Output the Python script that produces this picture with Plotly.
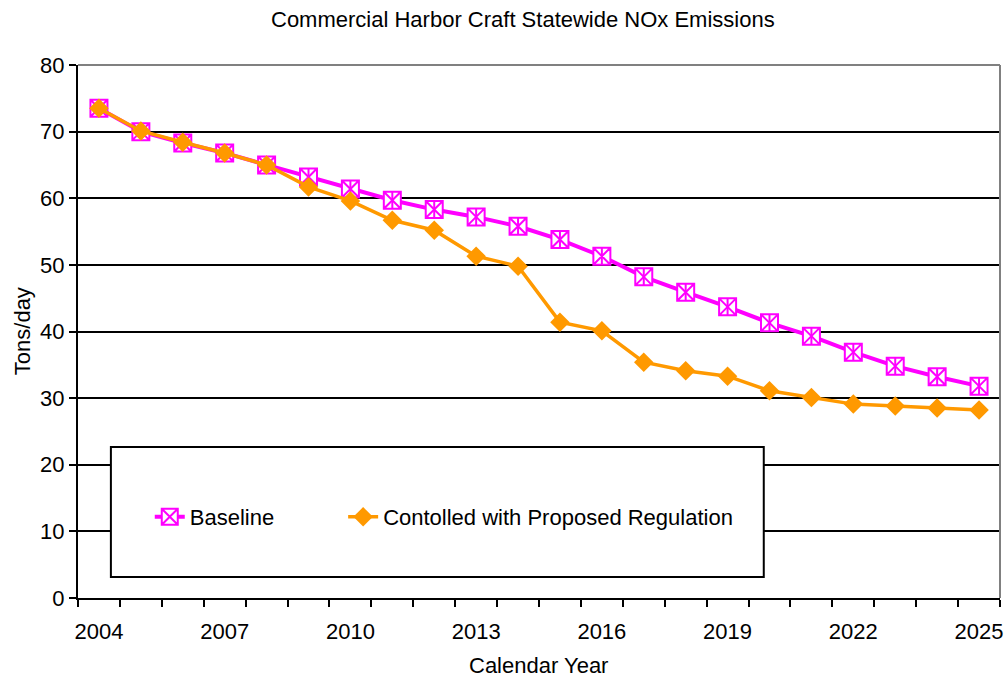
import plotly.graph_objects as go

# Statewide NOx emissions from commercial harbor craft (tons/day)
years = list(range(2004, 2026))
baseline = [73.5, 70.0, 68.3, 66.8, 65.0, 63.2, 61.4, 59.7, 58.3, 57.2, 55.8,
            53.8, 51.3, 48.2, 45.9, 43.7, 41.3, 39.3, 36.9, 34.8, 33.2, 31.8]
controlled = [73.5, 70.1, 68.4, 66.8, 65.0, 61.7, 59.6, 56.7, 55.2, 51.3, 49.8,
              41.4, 40.1, 35.4, 34.1, 33.3, 31.1, 30.1, 29.1, 28.8, 28.5, 28.2]
year_ticks = [2004, 2007, 2010, 2013, 2016, 2019, 2022, 2025]
y_ticks = [0, 10, 20, 30, 40, 50, 60, 70, 80]

W, H = 1006, 679
ML, MR, MT, MB = 78, 3, 65, 81
PW, PH = W - ML - MR, H - MT - MB


def px_x(p):
    return (p - ML) / PW


def px_y(p):
    return (H - MB - p) / PH


FONT = "Liberation Sans, Arial, sans-serif"
FS = 22
MAGENTA = "#FF00FF"
ORANGE = "#FF9900"

fig = go.Figure()

fig.add_trace(go.Scatter(
    x=years, y=baseline, name="Baseline", mode="lines+markers",
    line=dict(color=MAGENTA, width=4),
    marker=dict(symbol="square-x", size=17, color="white",
                line=dict(color=MAGENTA, width=2)),
    legend="legend",
))
# vertical stroke completing the starred square marker
fig.add_trace(go.Scatter(
    x=years, y=baseline, mode="markers", showlegend=False, hoverinfo="skip",
    marker=dict(symbol="line-ns", size=12, color=MAGENTA,
                line=dict(color=MAGENTA, width=2)),
))
fig.add_trace(go.Scatter(
    x=years, y=controlled, name="Contolled with Proposed Regulation",
    mode="lines+markers",
    line=dict(color=ORANGE, width=3.5),
    marker=dict(symbol="diamond", size=15, color=ORANGE),
    legend="legend2",
))

legend_common = dict(
    orientation="h", yanchor="middle", xanchor="left",
    bgcolor="rgba(0,0,0,0)", borderwidth=0,
    font=dict(family=FONT, size=FS, color="black"),
)

fig.update_layout(
    width=W, height=H,
    margin=dict(l=ML, r=MR, t=MT, b=MB),
    paper_bgcolor="white", plot_bgcolor="white",
    font=dict(family=FONT, size=FS, color="black"),
    showlegend=True,
    legend=dict(x=px_x(150), y=px_y(517), **legend_common),
    legend2=dict(x=px_x(344), y=px_y(517), **legend_common),
    xaxis=dict(
        range=[2003.5, 2025.5], tickmode="array", tickvals=year_ticks,
        ticktext=[str(y) for y in year_ticks], ticks="", showgrid=False,
        showline=True, linecolor="black", linewidth=2, zeroline=False,
        tickfont=dict(family=FONT, size=FS, color="black"),
        ticklabelstandoff=13, ticklabeloverflow="allow",
        minor=dict(tickmode="array",
                   tickvals=[y - 0.5 for y in years] + [years[-1] + 0.5],
                   ticks="outside", ticklen=7, tickcolor="black", tickwidth=1.5,
                   showgrid=False),
    ),
    yaxis=dict(
        range=[0, 80], tickmode="array", tickvals=y_ticks,
        ticks="outside", ticklen=7, tickcolor="black", tickwidth=1.5,
        showgrid=True, gridcolor="black", gridwidth=1.5,
        showline=True, linecolor="black", linewidth=2, zeroline=False,
        tickfont=dict(family=FONT, size=FS, color="black"),
    ),
    shapes=[
        # plot-area border on top and right
        dict(type="line", xref="paper", yref="paper", x0=0, x1=1, y0=1, y1=1,
             line=dict(color="#808080", width=2), layer="above"),
        dict(type="line", xref="paper", yref="paper", x0=1, x1=1, y0=0, y1=1,
             line=dict(color="#808080", width=2), layer="above"),
        # legend frame
        dict(type="rect", xref="paper", yref="paper",
             x0=px_x(111), x1=px_x(766), y0=px_y(577), y1=px_y(447),
             fillcolor="white", line=dict(color="black", width=2), layer="above"),
    ],
    annotations=[
        dict(text="Commercial Harbor Craft Statewide NOx Emissions",
             xref="paper", yref="paper", x=px_x(524), y=px_y(19),
             xanchor="center", yanchor="middle", showarrow=False,
             font=dict(family=FONT, size=FS, color="black")),
        dict(text="Calendar Year", xref="paper", yref="paper",
             x=px_x(540), y=px_y(665), xanchor="center", yanchor="middle",
             showarrow=False, font=dict(family=FONT, size=FS, color="black")),
        dict(text="Tons/day", xref="paper", yref="paper",
             x=px_x(22), y=px_y(331), xanchor="center", yanchor="middle",
             textangle=-90, showarrow=False,
             font=dict(family=FONT, size=FS, color="black")),
    ],
)

fig.write_html("out.html")
